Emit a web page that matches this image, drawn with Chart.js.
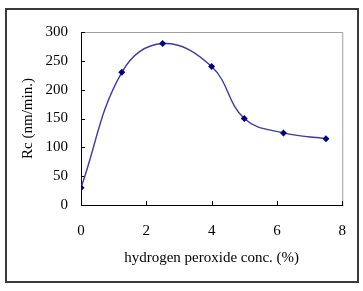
<!DOCTYPE html>
<html>
<head>
<meta charset="utf-8">
<script src="https://cdn.jsdelivr.net/npm/chart.js@4"></script>
<style>
  html, body { margin: 0; padding: 0; background: #fff; }
  #wrap { width: 363px; height: 291px; }
</style>
</head>
<body>
<div id="wrap"><canvas id="myChart" width="363" height="291"></canvas></div>
<script>
// data
var concentration = [0, 1.25, 2.5, 4, 5, 6.2, 7.5];
var rateRc = [30, 230, 280, 240, 150, 125, 115];
var xTicks = [0, 2, 4, 6, 8];
var yTicks = [0, 50, 100, 150, 200, 250, 300];

var serif = '"Liberation Serif", "Times New Roman", serif';

// frame round the figure, plot box, and inward tick marks
var framePlugin = {
    id: 'frame',
    beforeDraw: function(chart) {
        var ctx = chart.ctx;
        ctx.save();
        ctx.fillStyle = '#fff';
        ctx.fillRect(0, 0, chart.width, chart.height);
        ctx.strokeStyle = '#3a3a3a';
        ctx.lineWidth = 2;
        ctx.strokeRect(6, 9, 352, 273);
        ctx.restore();
    },
    beforeDatasetsDraw: function(chart) {
        var ctx = chart.ctx, a = chart.chartArea;
        var xs = chart.scales.x, ys = chart.scales.y;
        ctx.save();
        ctx.strokeStyle = '#a0a0a0';
        ctx.lineWidth = 1;
        ctx.beginPath();
        ctx.moveTo(a.left, a.top + 0.5);
        ctx.lineTo(a.right + 0.5, a.top + 0.5);
        ctx.lineTo(a.right + 0.5, a.bottom);
        ctx.stroke();
        ctx.strokeStyle = '#000';
        ctx.beginPath();
        ctx.moveTo(a.left + 0.5, a.top);
        ctx.lineTo(a.left + 0.5, a.bottom + 0.5);
        ctx.lineTo(a.right + 1, a.bottom + 0.5);
        xTicks.forEach(function(v) {
            var px = Math.round(xs.getPixelForValue(v)) + 0.5;
            ctx.moveTo(px, a.bottom);
            ctx.lineTo(px, a.bottom - 4);
        });
        yTicks.forEach(function(v) {
            var py = Math.round(ys.getPixelForValue(v)) + 0.5;
            ctx.moveTo(a.left, py);
            ctx.lineTo(a.left + 4, py);
        });
        ctx.stroke();
        ctx.restore();
    }
};

var ctx = document.getElementById('myChart').getContext('2d');
var myChart = new Chart(ctx, {
    type: 'scatter',
    data: {
        datasets: [{
            data: concentration.map(function(c, i) { return { x: c, y: rateRc[i] }; }),
            showLine: true,
            tension: 0.4,
            borderColor: '#3c3ca8',
            borderWidth: 1.4,
            backgroundColor: '#000080',
            pointStyle: 'rectRot',
            pointRadius: 3.5,
            pointBorderWidth: 0
        }]
    },
    options: {
        responsive: false,
        animation: false,
        devicePixelRatio: 1,
        layout: { padding: { left: 0, top: 32, right: 18, bottom: 0 } },
        plugins: {
            legend: { display: false },
            tooltip: { enabled: false }
        },
        scales: {
            x: {
                type: 'linear',
                min: 0,
                max: 8,
                afterBuildTicks: function(s) { s.ticks = xTicks.map(function(v) { return { value: v }; }); },
                afterFit: function(s) { s.height = 86; },
                grid: { display: false, drawTicks: false },
                border: { display: false },
                ticks: { color: '#000', padding: 17, font: { family: serif, size: 15 } },
                title: {
                    display: true,
                    text: 'hydrogen peroxide conc. (%)',
                    color: '#000',
                    font: { family: serif, size: 15 },
                    padding: { top: 0, bottom: 24 }
                }
            },
            y: {
                min: 0,
                max: 300,
                afterBuildTicks: function(s) { s.ticks = yTicks.map(function(v) { return { value: v }; }); },
                afterFit: function(s) { s.width = 81; },
                grid: { display: false, drawTicks: false },
                border: { display: false },
                ticks: { color: '#000', padding: 13, font: { family: serif, size: 15 } },
                title: {
                    display: true,
                    text: 'Rc (nm/min.)',
                    color: '#000',
                    font: { family: serif, size: 15 },
                    padding: { top: 19, bottom: 0 }
                }
            }
        }
    },
    plugins: [framePlugin]
});
</script>
</body>
</html>
